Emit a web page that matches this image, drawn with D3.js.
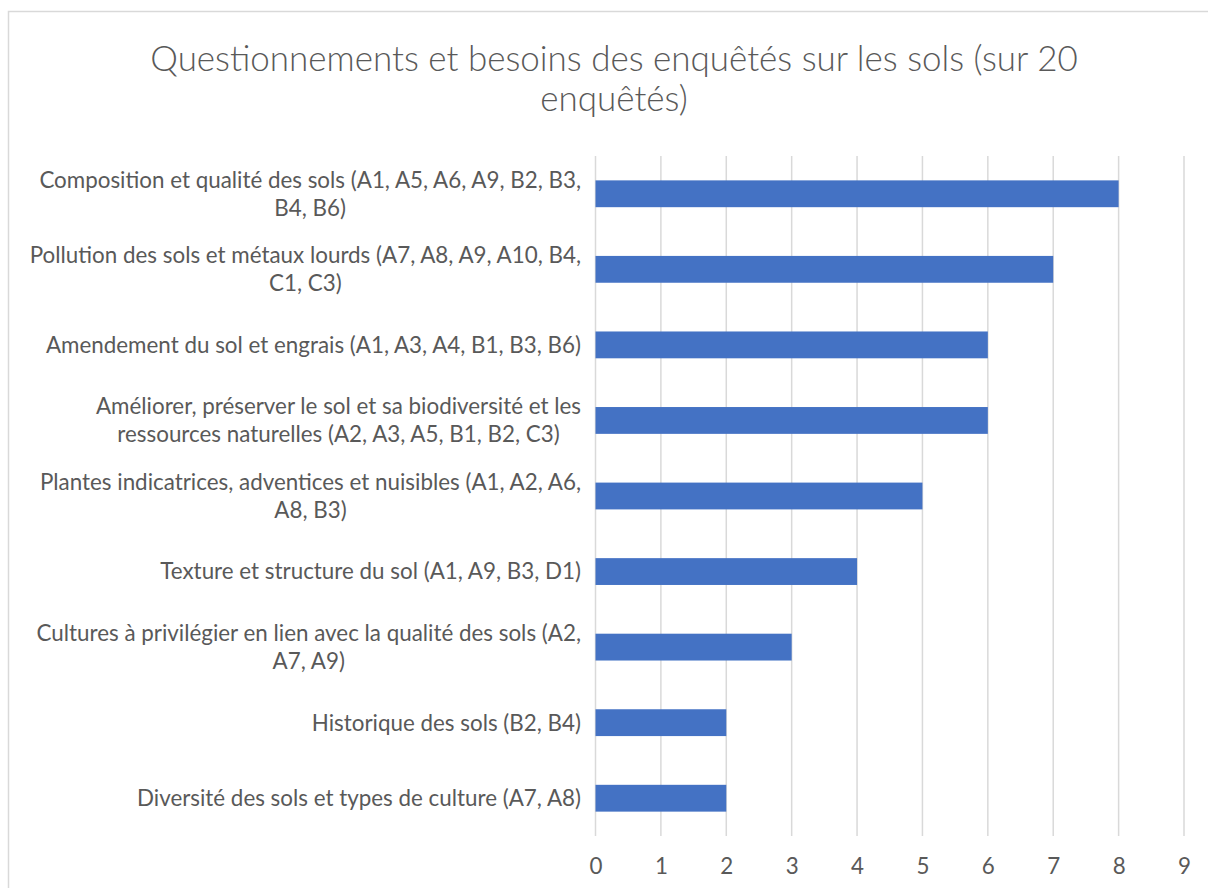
<!DOCTYPE html>
<html lang="fr">
<head>
<meta charset="UTF-8">
<title>Questionnements et besoins</title>
<script src="https://d3js.org/d3.v7.min.js"></script>
<style>
  body {margin: 0; background: #fff;}
  svg {display: block;}
  text {font-family: Lato, "Open Sans", sans-serif; fill: #595959;}
</style>
</head>
<body>
<script>
    const width = 1208;
    const height = 888;

    // data, top to bottom
    const categories = [
        "Composition et qualité des sols (A1, A5, A6, A9, B2, B3,\nB4, B6)",
        "Pollution des sols et métaux lourds (A7, A8, A9, A10, B4,\nC1, C3)",
        "Amendement du sol et engrais (A1, A3, A4, B1, B3, B6)",
        "Améliorer, préserver le sol et sa biodiversité et les\nressources naturelles (A2, A3, A5, B1, B2, C3)",
        "Plantes indicatrices, adventices et nuisibles (A1, A2, A6,\nA8, B3)",
        "Texture et structure du sol (A1, A9, B3, D1)",
        "Cultures à privilégier en lien avec la qualité des sols (A2,\nA7, A9)",
        "Historique des sols (B2, B4)",
        "Diversité des sols et types de culture (A7, A8)"
    ];
    const values = [8, 7, 6, 6, 5, 4, 3, 2, 2];
    const xTicks = [0, 1, 2, 3, 4, 5, 6, 7, 8, 9];
    const titleLines = ["Questionnements et besoins des enquêtés sur les sols (sur 20", "enquêtés)"];

    const plot = {left: 595.5, right: 1184, top: 156, bottom: 836};

    const svg = d3.select("body").append("svg")
            .attr("width", width).attr("height", height);

    // chart frame
    svg.append("rect")
            .attr("x", 8.5).attr("y", 11.5)
            .attr("width", 1400).attr("height", 1000)
            .style("fill", "none").style("stroke", "#d9d9d9").style("stroke-width", 1.5);

    const x = d3.scaleLinear().domain([0, 9]).range([plot.left, plot.right]);
    const y = d3.scaleBand().domain(categories).range([plot.top, plot.bottom])
            .paddingInner(0.645).paddingOuter(0.3225);

    // font size fitting helper: scale so a sample string gets a target width
    function fitSize(sample, target, base, weight) {
        const t = svg.append("text").style("font-size", base + "px")
                .style("font-weight", weight || 400).text(sample);
        const w = t.node().getComputedTextLength();
        t.remove();
        return base * target / w;
    }
    const titleSize = fitSize(titleLines[0], 928, 28, 300);
    const labelSize = fitSize("Composition et qualité des sols (A1, A5, A6, A9, B2, B3,", 542, 18);

    // title
    svg.append("g").selectAll("text")
            .data(titleLines)
            .join("text")
            .attr("x", 614)
            .attr("y", (d, i) => 71 + i * 40)
            .attr("text-anchor", "middle")
            .style("font-size", titleSize + "px")
            .style("font-weight", 300)
            .text(d => d);

    // gridlines
    svg.append("g").selectAll("line")
            .data(xTicks)
            .join("line")
            .attr("x1", d => x(d)).attr("x2", d => x(d))
            .attr("y1", plot.top).attr("y2", plot.bottom)
            .style("stroke", "#d9d9d9").style("stroke-width", 1.5);

    // bars
    svg.append("g").selectAll("rect")
            .data(values)
            .join("rect")
            .attr("x", x(0))
            .attr("y", (d, i) => y(categories[i]))
            .attr("width", d => x(d) - x(0))
            .attr("height", y.bandwidth())
            .style("fill", "#4472c4");

    // x axis labels
    const xAxis = d3.axisBottom(x).tickValues(xTicks).tickSize(0).tickPadding(0);
    const gx = svg.append("g")
            .attr("transform", `translate(0,${plot.bottom + 31})`)
            .call(xAxis);
    gx.select(".domain").remove();
    gx.selectAll("text")
            .attr("dy", "0.32em")
            .style("font-size", labelSize + "px")
            .style("font-family", "Lato, 'Open Sans', sans-serif")
            .style("fill", "#595959");

    // category labels: right aligned block, lines centered in block
    const labelRight = 581;
    const lineGap = 28;
    categories.forEach(function(c) {
        const lines = c.split("\n");
        const cy = y(c) + y.bandwidth() / 2;
        const g = svg.append("g");
        const texts = lines.map(function(l, i) {
            return g.append("text")
                    .attr("y", cy + (i - (lines.length - 1) / 2) * lineGap)
                    .attr("dy", "0.35em")
                    .attr("text-anchor", "middle")
                    .style("font-size", labelSize + "px")
                    .text(l);
        });
        const blockW = d3.max(texts, t => t.node().getComputedTextLength());
        texts.forEach(t => t.attr("x", labelRight - blockW / 2));
    });
</script>
</body>
</html>
